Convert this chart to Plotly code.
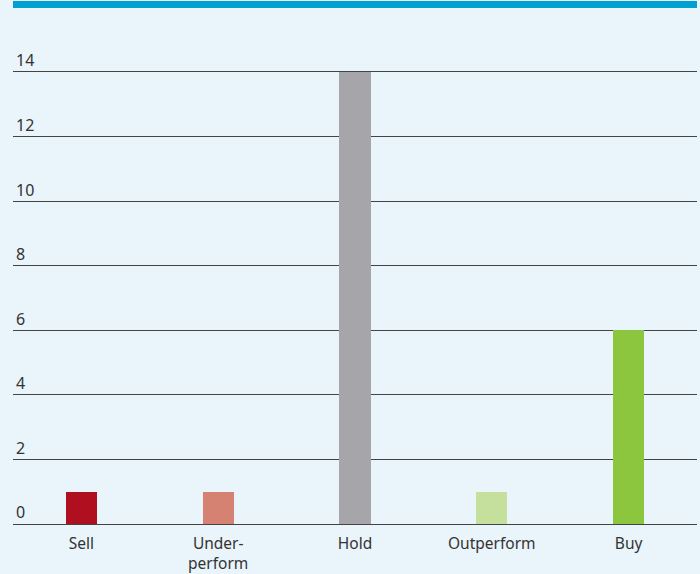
import plotly.graph_objects as go

categories = ["Sell", "Under-<br>perform", "Hold", "Outperform", "Buy"]
values = [1, 1, 14, 1, 6]
colors = ["#b00f1f", "#d68272", "#a6a6aa", "#c5e09c", "#8cc63f"]
y_ticks = [0, 2, 4, 6, 8, 10, 12, 14]

fig = go.Figure(go.Bar(x=categories, y=values, marker=dict(color=colors, line=dict(width=0)), width=0.227))

H_PLOT = 476
fig.add_shape(type="rect", xref="paper", yref="paper", x0=0, x1=1,
              y0=1 + 40 / H_PLOT, y1=1 + 47 / H_PLOT,
              fillcolor="#00a0d2", line=dict(width=0), layer="above")

fig.update_layout(
    width=700, height=574,
    margin=dict(l=13, r=3, t=48, b=50),
    paper_bgcolor="#e9f4fb", plot_bgcolor="#e9f4fb",
    font=dict(family="Noto Sans", size=15, color="#333333"),
    showlegend=False,
    bargap=0,
    xaxis=dict(range=[-0.5, 4.5], showgrid=False, showline=False, ticks="outside", ticklen=5,
               tickcolor="rgba(0,0,0,0)", automargin=False, tickfont=dict(size=15.5, color="#333333")),
    yaxis=dict(range=[0, 14.743], tickvals=y_ticks, showgrid=True, gridcolor="#444444", gridwidth=1.4,
               zeroline=True, zerolinecolor="#444444", zerolinewidth=1.4, automargin=False,
               ticklabelposition="inside top", ticks="", tickfont=dict(size=16, color="#333333")),
)

fig.write_html("out.html")
